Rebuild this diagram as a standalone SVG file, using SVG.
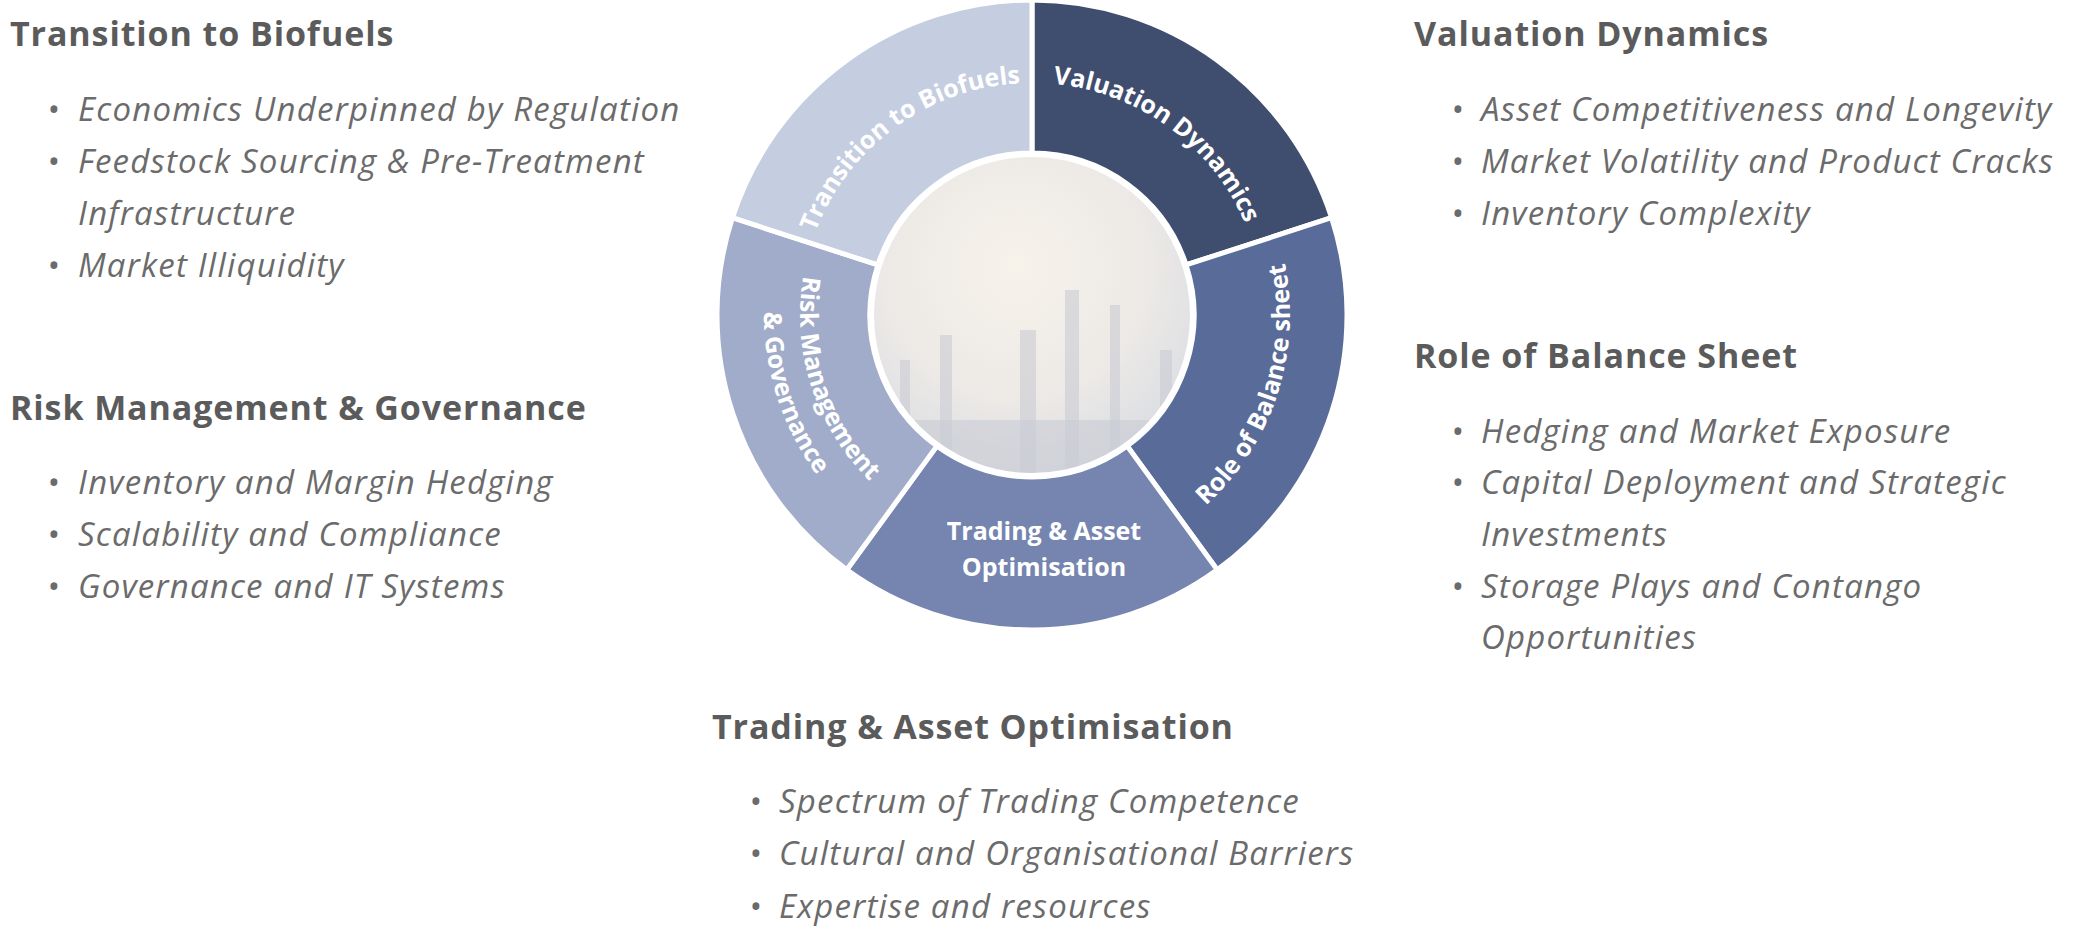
<svg xmlns="http://www.w3.org/2000/svg" width="2078" height="932" viewBox="0 0 2078 932">
<defs>
<style>
.h{font-family:"Open Sans","Liberation Sans",sans-serif;font-weight:700;font-size:34px;letter-spacing:0.9px;fill:#5b5b5b}
.b{font-family:"Open Sans","Liberation Sans",sans-serif;font-style:italic;font-size:33px;letter-spacing:1.2px;fill:#6b6b6b}
.w{font-family:"Open Sans","Liberation Sans",sans-serif;font-weight:700;font-size:25px;fill:#ffffff}
.seg{stroke:#ffffff;stroke-width:5}
.t{fill:#c9ccd3;opacity:0.6}
</style>
<radialGradient id="img" cx="0.45" cy="0.35" r="0.7">
<stop offset="0" stop-color="#f7f2ea"/>
<stop offset="0.6" stop-color="#ece9e6"/>
<stop offset="1" stop-color="#d9dce3"/>
</radialGradient>
<clipPath id="cc"><circle cx="1032" cy="315" r="160"/></clipPath>
<path id="pTr" d="M811.4,243.3 A232,232 0 0 1 1032,83" fill="none"/>
<path id="pVa" d="M1032,83 A232,232 0 0 1 1252.6,243.3" fill="none"/>
<path id="pRo" d="M1183.6,523.7 A258,258 0 0 0 1277.4,235.3" fill="none"/>
<path id="pRi1" d="M811.4,243.3 A232,232 0 0 0 895.6,502.7" fill="none"/>
<path id="pRi2" d="M777.1,232.2 A268,268 0 0 0 874.5,531.8" fill="none"/>
</defs>
<rect width="2078" height="932" fill="#ffffff"/>
<g id="wheel">
<g id="seg-valuation"><path class="seg" fill="#3f4d6e" d="M1032,0 A315,315 0 0 1 1331.6,217.7 L1186.1,264.9 A162,162 0 0 0 1032,153 Z"/>
<text class="w"><textPath href="#pVa" startOffset="50%" text-anchor="middle">Valuation Dynamics</textPath></text></g>
<g id="seg-balance"><path class="seg" fill="#596b98" d="M1331.6,217.7 A315,315 0 0 1 1217.2,569.8 L1127.2,446.1 A162,162 0 0 0 1186.1,264.9 Z"/>
<text class="w"><textPath href="#pRo" startOffset="50%" text-anchor="middle">Role of Balance sheet</textPath></text></g>
<g id="seg-trading"><path class="seg" fill="#7585b0" d="M1217.2,569.8 A315,315 0 0 1 846.8,569.8 L936.8,446.1 A162,162 0 0 0 1127.2,446.1 Z"/>
<text class="w" x="1044" y="540" text-anchor="middle">Trading &amp; Asset</text>
<text class="w" x="1044" y="576" text-anchor="middle">Optimisation</text></g>
<g id="seg-risk"><path class="seg" fill="#a0acc9" d="M846.8,569.8 A315,315 0 0 1 732.4,217.7 L877.9,264.9 A162,162 0 0 0 936.8,446.1 Z"/>
<text class="w"><textPath href="#pRi1" startOffset="50%" text-anchor="middle">Risk Management</textPath></text>
<text class="w"><textPath href="#pRi2" startOffset="50%" text-anchor="middle">&amp; Governance</textPath></text></g>
<g id="seg-transition"><path class="seg" fill="#c5cde0" d="M732.4,217.7 A315,315 0 0 1 1032,0 L1032,153 A162,162 0 0 0 877.9,264.9 Z"/>
<text class="w"><textPath href="#pTr" startOffset="50%" text-anchor="middle">Transition to Biofuels</textPath></text></g>
<g id="center">
<circle cx="1032" cy="315" r="160" fill="url(#img)"/>
<g clip-path="url(#cc)">
<rect class="t" x="1065" y="290" width="14" height="190"/>
<rect class="t" x="1020" y="330" width="16" height="150"/>
<rect class="t" x="940" y="335" width="12" height="150"/>
<rect class="t" x="1110" y="305" width="10" height="180"/>
<rect class="t" x="1160" y="350" width="12" height="130"/>
<rect class="t" x="900" y="360" width="10" height="120"/>
<rect class="t" x="870" y="420" width="330" height="60"/>
</g>
<circle cx="1032" cy="315" r="160" fill="none" stroke="#ffffff" stroke-width="4"/>
</g>
</g>
<g id="connectors"/>
<g id="txt-transition">
<text class="h" x="10" y="46">Transition to Biofuels</text>
<text class="b" x="47" y="121">•</text><text class="b" x="78" y="121">Economics Underpinned by Regulation</text>
<text class="b" x="47" y="173">•</text><text class="b" x="78" y="173">Feedstock Sourcing &amp; Pre-Treatment</text>
<text class="b" x="78" y="225">Infrastructure</text>
<text class="b" x="47" y="277">•</text><text class="b" x="78" y="277">Market Illiquidity</text>
</g>
<g id="txt-risk">
<text class="h" x="10" y="420">Risk Management &amp; Governance</text>
<text class="b" x="47" y="494">•</text><text class="b" x="78" y="494">Inventory and Margin Hedging</text>
<text class="b" x="47" y="546">•</text><text class="b" x="78" y="546">Scalability and Compliance</text>
<text class="b" x="47" y="598">•</text><text class="b" x="78" y="598">Governance and IT Systems</text>
</g>
<g id="txt-valuation">
<text class="h" x="1414" y="46">Valuation Dynamics</text>
<text class="b" x="1451" y="121">•</text><text class="b" x="1481" y="121">Asset Competitiveness and Longevity</text>
<text class="b" x="1451" y="173">•</text><text class="b" x="1481" y="173">Market Volatility and Product Cracks</text>
<text class="b" x="1451" y="225">•</text><text class="b" x="1481" y="225">Inventory Complexity</text>
</g>
<g id="txt-balance">
<text class="h" x="1414" y="368">Role of Balance Sheet</text>
<text class="b" x="1451" y="443">•</text><text class="b" x="1481" y="443">Hedging and Market Exposure</text>
<text class="b" x="1451" y="494">•</text><text class="b" x="1481" y="494">Capital Deployment and Strategic</text>
<text class="b" x="1481" y="546">Investments</text>
<text class="b" x="1451" y="598">•</text><text class="b" x="1481" y="598">Storage Plays and Contango</text>
<text class="b" x="1481" y="649">Opportunities</text>
</g>
<g id="txt-trading">
<text class="h" x="712" y="739">Trading &amp; Asset Optimisation</text>
<text class="b" x="749" y="813">•</text><text class="b" x="779" y="813">Spectrum of Trading Competence</text>
<text class="b" x="749" y="865">•</text><text class="b" x="779" y="865">Cultural and Organisational Barriers</text>
<text class="b" x="749" y="918">•</text><text class="b" x="779" y="918">Expertise and resources</text>
</g>
</svg>
